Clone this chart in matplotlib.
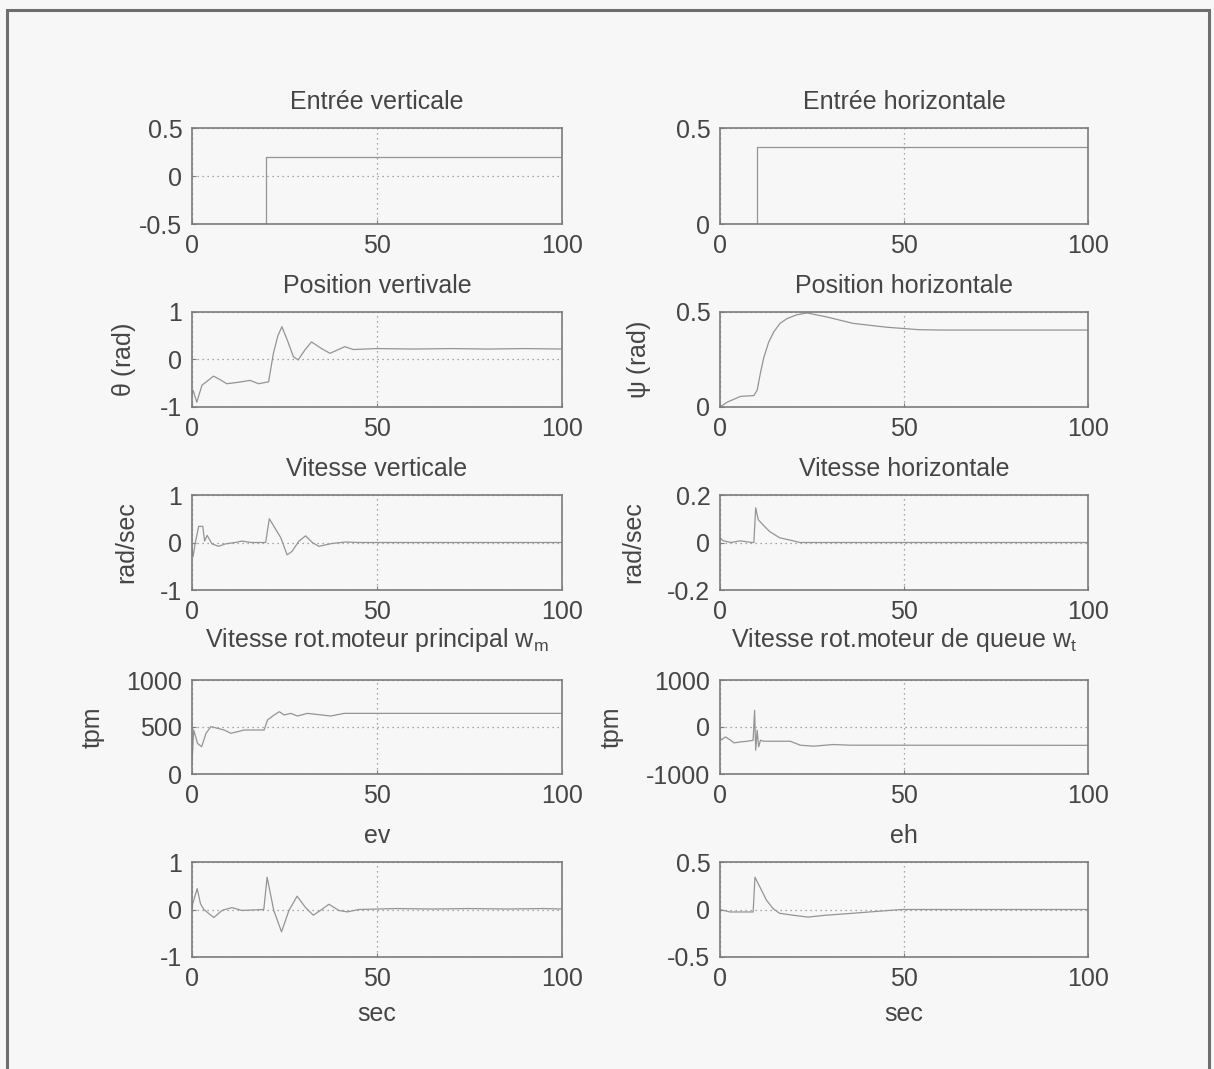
import matplotlib.pyplot as plt
from matplotlib.patches import Rectangle

plt.rcParams['font.family'] = ['Liberation Sans', 'DejaVu Sans']
plt.rcParams['mathtext.fontset'] = 'custom'
plt.rcParams['mathtext.rm'] = 'Liberation Sans'
plt.rcParams['mathtext.it'] = 'Liberation Sans'

# --- consignes
t_ev_in = [0, 20, 20, 100]
ev_in = [-0.5, -0.5, 0.2, 0.2]
t_eh_in = [0, 10, 10, 100]
eh_in = [0, 0, 0.4, 0.4]

# --- position verticale theta
t_theta = [0, 0.3, 1.3, 2.7, 4.2, 5.8, 7.5, 9.4, 12.5, 15.7, 18, 20.7, 22, 23.2, 24.3, 25.8,
           27.4, 28.7, 30.5, 32.3, 35, 37.3, 39.3, 41.3, 43.6, 50, 60, 70, 80, 90, 100]
theta = [-0.75, -0.65, -0.9, -0.54, -0.45, -0.35, -0.42, -0.51, -0.48, -0.44, -0.51, -0.47,
         0.13, 0.5, 0.69, 0.4, 0.06, -0.01, 0.2, 0.37, 0.23, 0.13, 0.2, 0.27, 0.21, 0.23,
         0.22, 0.23, 0.22, 0.23, 0.22]

# --- position horizontale psi
t_psi = [0, 2, 5.6, 9.2, 10.1, 11, 11.9, 13.2, 14.6, 16.3, 18.2, 20.8, 23.6, 29, 36.2, 45.2,
         54, 60, 80, 100]
psi = [0, 0.026, 0.056, 0.06, 0.088, 0.18, 0.26, 0.34, 0.395, 0.44, 0.465, 0.485, 0.495,
       0.474, 0.44, 0.42, 0.407, 0.405, 0.405, 0.405]

# --- vitesse verticale
t_vv = [0, 0.3, 0.9, 1.8, 2.9, 3.4, 4.1, 5.4, 7.2, 9, 11.7, 13.5, 16, 19.9, 20.9, 22.6,
        24, 25.7, 27, 28.9, 30.7, 32.5, 34.3, 37.9, 41.5, 45.1, 100]
vv = [-0.1, -0.3, 0, 0.34, 0.34, 0.03, 0.15, -0.03, -0.08, -0.03, 0, 0.03, 0, 0, 0.5, 0.28,
      0.1, -0.26, -0.19, 0.03, 0.14, 0, -0.08, -0.02, 0.01, 0, 0]

# --- vitesse horizontale
t_vh = [0, 0.9, 3, 5.5, 8.6, 9.2, 9.7, 10.4, 11.7, 13.5, 16.2, 19.9, 21.7, 100]
vh = [0.02, 0.007, 0, 0.007, 0, 0, 0.146, 0.096, 0.074, 0.046, 0.02, 0.007, 0, 0]

# --- vitesse moteur principal (tpm)
t_wm = [0, 0.45, 1.5, 2.6, 3.8, 5.1, 6.9, 8.7, 10.5, 12.3, 14.1, 19.5, 20.4, 22.2, 23.6,
        24.9, 26.7, 28.5, 31.2, 37.5, 41.1, 100]
wm = [113, 468, 326, 290, 433, 504, 486, 468, 433, 450, 468, 468, 574, 628, 663, 628, 645,
      617, 645, 617, 645, 645]

# --- vitesse moteur de queue (tpm)
t_wt = [0, 0.2, 1.5, 2.9, 3.8, 5.6, 7.4, 9, 9.4, 9.7, 10.1, 10.5, 11, 11.9, 19.1, 21.8,
        25.4, 30.8, 35.3, 100]
wt = [-100, -282, -211, -282, -338, -317, -303, -282, 352, -493, -70, -423, -282, -303,
      -303, -387, -408, -373, -387, -390]

# --- erreurs
t_ev = [0, 0.2, 1.4, 2.3, 3.2, 5.9, 8.1, 10.8, 13.5, 19.4, 20.3, 22.1, 24.2, 26.2, 28.4,
        30.7, 32.8, 34.7, 37, 39.7, 42, 45.1, 55, 65, 75, 85, 95, 100]
ev = [0, 0.12, 0.44, 0.12, 0, -0.17, -0.02, 0.04, -0.02, 0, 0.68, -0.02, -0.47, -0.02, 0.28,
      0.04, -0.12, -0.02, 0.11, -0.02, -0.05, 0, 0.02, 0.01, 0.02, 0.01, 0.02, 0.01]
t_eh = [0, 2.7, 9, 9.5, 10.8, 12.6, 14.4, 16.2, 19.8, 23.9, 28.8, 36, 45.9, 49.5, 100]
eh = [0, -0.026, -0.026, 0.34, 0.24, 0.1, 0.01, -0.04, -0.06, -0.08, -0.06, -0.04, -0.01, 0, 0]

W, H = 1214, 1069
bg = '#f7f7f7'
ink = '#454545'
line_c = '#949494'
box_c = '#7c7c7c'

fig = plt.figure(figsize=(W / 100, H / 100), dpi=100, facecolor=bg)

# page frame
fig.patches.append(Rectangle((7 / W, -0.05), (1209 - 7) / W, 1 - 10 / H + 0.05,
                             transform=fig.transFigure, fill=False,
                             edgecolor='#6e6e6e', linewidth=2.2))

lefts = [192, 720]
widths = [370, 368]
row_px = [(128, 224), (312, 407), (495, 590), (680, 774), (862, 957)]

panels = [
    [(t_ev_in, ev_in, 'Entrée verticale', '', (-0.5, 0.5), [-0.5, 0, 0.5], ['-0.5', '0', '0.5']),
     (t_eh_in, eh_in, 'Entrée horizontale', '', (0, 0.5), [0, 0.5], ['0', '0.5'])],
    [(t_theta, theta, 'Position vertivale', r'$\theta$ (rad)', (-1, 1), [-1, 0, 1], ['-1', '0', '1']),
     (t_psi, psi, 'Position horizontale', r'$\psi$ (rad)', (0, 0.5), [0, 0.5], ['0', '0.5'])],
    [(t_vv, vv, 'Vitesse verticale', 'rad/sec', (-1, 1), [-1, 0, 1], ['-1', '0', '1']),
     (t_vh, vh, 'Vitesse horizontale', 'rad/sec', (-0.2, 0.2), [-0.2, 0, 0.2], ['-0.2', '0', '0.2'])],
    [(t_wm, wm, r'Vitesse rot.moteur principal w$_{\mathregular{m}}$', 'tpm', (0, 1000),
      [0, 500, 1000], ['0', '500', '1000']),
     (t_wt, wt, r'Vitesse rot.moteur de queue w$_{\mathregular{t}}$', 'tpm', (-1000, 1000),
      [-1000, 0, 1000], ['-1000', '0', '1000'])],
    [(t_ev, ev, 'ev', '', (-1, 1), [-1, 0, 1], ['-1', '0', '1']),
     (t_eh, eh, 'eh', '', (-0.5, 0.5), [-0.5, 0, 0.5], ['-0.5', '0', '0.5'])],
]

fs = 18
for r, (top, bot) in enumerate(row_px):
    for c in range(2):
        t, y, title, ylab, ylim, yt, ytl = panels[r][c]
        ax = fig.add_axes([lefts[c] / W, 1 - bot / H, widths[c] / W, (bot - top) / H])
        ax.set_facecolor(bg)
        ax.plot(t, y, color=line_c, linewidth=0.9)
        ax.set_xlim(0, 100)
        ax.set_ylim(*ylim)
        ax.set_xticks([0, 50, 100])
        ax.set_xticklabels(['0', '50', '100'])
        ax.set_yticks(yt)
        ax.set_yticklabels(ytl)
        ax.tick_params(direction='in', length=3, color=box_c, labelcolor=ink,
                       labelsize=fs)
        ax.tick_params(axis='x', pad=7)
        ax.tick_params(axis='y', pad=7)
        ax.grid(True, linestyle=(0, (1, 3)), color='#8c8c8c', linewidth=0.9)
        for s in ax.spines.values():
            s.set_color(box_c)
            s.set_linewidth(1.2)
        ax.set_title(title, fontsize=fs, color=ink, pad=24 if r == 3 else 14)
        if ylab:
            ax.set_ylabel(ylab, fontsize=fs, color=ink, labelpad=16)
        if r == 4:
            ax.set_xlabel('sec', fontsize=fs, color=ink, labelpad=8)

fig.savefig('out.png', dpi=100, facecolor=bg)
